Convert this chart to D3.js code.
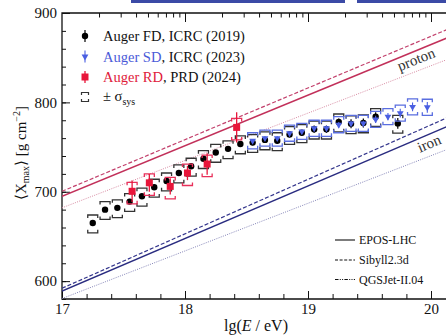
<!DOCTYPE html>
<html><head><meta charset="utf-8">
<script src="https://cdn.jsdelivr.net/npm/d3@7"></script>
<style>html,body{margin:0;padding:0;background:#fff;overflow:hidden}text{font-family:"Liberation Serif","Times New Roman",serif}</style>
</head><body><svg id="c" width="446" height="336"></svg>
<script>
// ---- data ----
const fdLg   = [17.25,17.35,17.45,17.55,17.65,17.75,17.85,17.95,18.05,18.15,18.25,18.35,18.45,18.55,18.65,18.75,18.85,18.95,19.05,19.15,19.25,19.35,19.45,19.55,19.73];
const fdX    = [665,680,682,689,695,705,712,721,728.5,737,744,748,753.5,755,758,757,764,766,770,770,778,776,777,784,776.5];
const fdErr  = [2,2,2,2,2,2,2,2,2,2,2,2,2,3,3,3,3,3,4,4,4,5,5,5,6];
const sdLg   = [18.55,18.65,18.75,18.85,18.95,19.05,19.15,19.25,19.35,19.45,19.55,19.65,19.75,19.85,19.97];
const sdX    = [757,760,760,765.5,767.5,771,771,775,776.5,776.5,781,784,788,795,794.5];
const sdErr  = [2,2,2,2,2,2,3,3,3,3,4,4,5,5,6];
const rdLg   = [17.57,17.71,17.88,18.02,18.18,18.42];
const rdX    = [700.5,710,706,721,731,772];
const rdErr  = [12,10,9,8,12,17];
const sysFD  = [9,11];   // up, down
const sysSD  = [9,9];
const sysRD  = [10,14];
const modelLg = [17,20.2];
const protonEPOS = [695,876];
const protonSibyll = [700.5,885.5];
const protonQGS = [682,851.6];
const ironEPOS = [589,777];
const ironSibyll = [592,787];
const ironQGS = [580.5,751];
const yMajor = [600,700,800,900];
const xMajor = [17,18,19,20];
const modelNames = ["EPOS-LHC","Sibyll2.3d","QGSJet-II.04"];

// ---- setup ----
const svg = d3.select("#c");
const W=446;
const x = d3.scaleLinear().domain([17,20]).range([62,431]);
const y = d3.scaleLinear().domain([580,900]).range([299,13]);
const xE = d3.scaleLog().domain([1e17,1e20]).range([62,431]);

// top link-like bars
svg.append("rect").attr("x",131).attr("y",0).attr("width",214).attr("height",3).attr("fill","#3b4aa6");
svg.append("rect").attr("x",357).attr("y",0).attr("width",89).attr("height",3).attr("fill","#3b4aa6");

svg.append("clipPath").attr("id","clip").append("rect").attr("x",62).attr("y",13).attr("width",400).attr("height",286);

// axes
const gL = svg.append("g").attr("transform","translate(62,0)");
gL.call(d3.axisLeft(y).tickValues(d3.range(580,901,20)).tickSize(-4).tickFormat(""));
gL.append("g").call(d3.axisLeft(y).tickValues(yMajor).tickSize(-8).tickPadding(5).tickFormat(d3.format("d")));
const gB = svg.append("g").attr("transform","translate(0,299)");
gB.call(d3.axisBottom(x).tickValues(d3.range(17,20.3,0.2)).tickSize(-5).tickFormat(""));
gB.append("g").call(d3.axisBottom(x).tickValues(xMajor).tickSize(-8).tickPadding(4).tickFormat(d3.format("d")));
const gT = svg.append("g").attr("transform","translate(0,13)");
const eTicks = xE.ticks().concat([2e20]);
gT.call(d3.axisTop(xE).tickValues(eTicks.filter(v=>Math.abs(Math.log10(v)%1)>1e-6)).tickSize(-4.5).tickFormat(""));
gT.append("g").call(d3.axisTop(xE).tickValues([1e18,1e19,1e20]).tickSize(-9).tickFormat(""));
svg.selectAll(".domain").remove();
svg.selectAll(".tick line").attr("stroke","#111").attr("stroke-width",1);
svg.selectAll(".tick text").attr("font-size",15).attr("fill","#111").attr("font-family",'"Liberation Serif",serif');

// frame
svg.append("path").attr("d",`M${W+2},13H62V299H${W+2}`).attr("fill","none").attr("stroke","#111").attr("stroke-width",1.3);

// model lines
const plot = svg.append("g").attr("clip-path","url(#clip)");
const line = d3.line().x(d=>x(d[0])).y(d=>y(d[1]));
const models = [
 {v:protonSibyll,c:"#c2406c",dash:"4,2",w:1.2},
 {v:protonEPOS,c:"#c2305a",dash:null,w:1.5},
 {v:protonQGS,c:"#d88aa2",dash:"1,1.3",w:1},
 {v:ironSibyll,c:"#33358c",dash:"4,2",w:1.2},
 {v:ironEPOS,c:"#2a2c80",dash:null,w:1.5},
 {v:ironQGS,c:"#8484b8",dash:"1,1.3",w:1}
];
models.forEach(m=>{
  plot.append("path").attr("d",line(modelLg.map((l,i)=>[l,m.v[i]])))
   .attr("fill","none").attr("stroke",m.c).attr("stroke-width",m.w).attr("stroke-dasharray",m.dash);
});
svg.append("text").attr("transform",`translate(418,64) rotate(-21.5)`).attr("text-anchor","middle").attr("font-size",15).attr("fill","#333").text("proton");
svg.append("text").attr("transform",`translate(431,148) rotate(-23)`).attr("text-anchor","middle").attr("font-size",15).attr("fill","#333").text("iron");

// data drawing helper
function brackets(g, lg, vals, sys, color){
  lg.forEach((l,i)=>{
    const cx=x(l), yt=y(vals[i]+sys[0]), yb=y(vals[i]-sys[1]);
    g.append("path").attr("d",`M${cx-5},${yt+3}V${yt}H${cx+5}V${yt+3}M${cx-5},${yb-3}V${yb}H${cx+5}V${yb-3}`)
      .attr("fill","none").attr("stroke",color).attr("stroke-width",1.3);
  });
}
function errs(g, lg, vals, e, color, w){
  lg.forEach((l,i)=>{
    g.append("line").attr("x1",x(l)).attr("x2",x(l)).attr("y1",y(vals[i]-e[i])).attr("y2",y(vals[i]+e[i]))
      .attr("stroke",color).attr("stroke-width",w);
  });
}
const cFD="#000", cSD="#4a5fe2", cRD="#e8163a";
const dg = plot.append("g");
brackets(dg, fdLg, fdX, sysFD, "#333");
errs(dg, fdLg, fdX, fdErr, cFD, 1.2);
dg.selectAll(".fd").data(fdLg).join("circle").attr("cx",d=>x(d)).attr("cy",(d,i)=>y(fdX[i])).attr("r",3.2).attr("fill",cFD);
brackets(dg, sdLg, sdX, sysSD, "#5a6ee0");
errs(dg, sdLg, sdX, sdErr, cSD, 1.1);
const tri = d3.symbol().type(d3.symbolTriangle).size(20);
dg.selectAll(".sd").data(sdLg).join("path").attr("d",tri).attr("transform",(d,i)=>`translate(${x(d)},${y(sdX[i])}) rotate(180)`).attr("fill",cSD);
brackets(dg, rdLg, rdX, sysRD, "#e8305a");
errs(dg, rdLg, rdX, rdErr, cRD, 1.3);
const sq = d3.symbol().type(d3.symbolSquare).size(49);
dg.selectAll(".rd").data(rdLg).join("path").attr("d",sq).attr("transform",(d,i)=>`translate(${x(d)},${y(rdX[i])})`).attr("fill",cRD);

// legend top-left
const lg = svg.append("g");
const rows=[36,56.5,77,97];
lg.append("line").attr("x1",85).attr("x2",85).attr("y1",rows[0]-6).attr("y2",rows[0]+6).attr("stroke","#000").attr("stroke-width",1.2);
lg.append("circle").attr("cx",85).attr("cy",rows[0]).attr("r",3.2).attr("fill","#000");
lg.append("line").attr("x1",85).attr("x2",85).attr("y1",rows[1]-6).attr("y2",rows[1]+6).attr("stroke",cSD).attr("stroke-width",1.1);
lg.append("path").attr("d",tri).attr("transform",`translate(85,${rows[1]}) rotate(180)`).attr("fill",cSD);
lg.append("line").attr("x1",85).attr("x2",85).attr("y1",rows[2]-6).attr("y2",rows[2]+6).attr("stroke",cRD).attr("stroke-width",1.3);
lg.append("path").attr("d",sq).attr("transform",`translate(85,${rows[2]})`).attr("fill",cRD);
lg.append("path").attr("d",`M81.5,${rows[3]-2}V${rows[3]-4.5}H88.5V${rows[3]-2}M81.5,${rows[3]+2}V${rows[3]+4.5}H88.5V${rows[3]+2}`).attr("fill","none").attr("stroke","#333").attr("stroke-width",1.2);
const t1 = lg.append("text").attr("x",103).attr("y",rows[0]+5).attr("font-size",14.5).attr("fill","#111");
t1.append("tspan").text("Auger FD, ICRC (2019)");
const t2 = lg.append("text").attr("x",103).attr("y",rows[1]+5).attr("font-size",14.5).attr("fill","#111");
t2.append("tspan").attr("fill","#4a5ad8").text("Auger SD");
t2.append("tspan").text(", ICRC (2023)");
const t3 = lg.append("text").attr("x",103).attr("y",rows[2]+5).attr("font-size",14.5).attr("fill","#111");
t3.append("tspan").attr("fill","#e0203a").text("Auger RD");
t3.append("tspan").text(", PRD (2024)");
const t4 = lg.append("text").attr("x",103).attr("y",rows[3]+4).attr("font-size",14.5).attr("fill","#111");
t4.append("tspan").text("± σ");
t4.append("tspan").attr("font-size",10).attr("dy",4).text("sys");

// model legend
const ml = svg.append("g");
const mrows=[240,260,279.5];
const mdash=[null,"3,1.6","3.5,1.3,1,1.3,1,1.3"];
modelNames.forEach((n,i)=>{
  ml.append("line").attr("x1",335).attr("x2",355).attr("y1",mrows[i]).attr("y2",mrows[i]).attr("stroke","#111").attr("stroke-width",1.1).attr("stroke-dasharray",mdash[i]);
  ml.append("text").attr("x",359).attr("y",mrows[i]+4).attr("font-size",12).attr("fill","#111").text(n);
});

// axis titles
const xt = svg.append("text").attr("x",256).attr("y",331).attr("text-anchor","middle").attr("font-size",16).attr("fill","#111");
xt.append("tspan").text("lg(");
xt.append("tspan").attr("font-style","italic").text("E");
xt.append("tspan").text(" / eV)");
const yt = svg.append("text").attr("transform","translate(26,153) rotate(-90)").attr("text-anchor","middle").attr("font-size",15).attr("fill","#111");
yt.append("tspan").text("⟨X");
yt.append("tspan").attr("font-size",10).attr("dy",3).text("max");
yt.append("tspan").attr("dy",-3).text("⟩ [g cm");
yt.append("tspan").attr("font-size",10).attr("dy",-6).text("−2");
yt.append("tspan").attr("dy",6).text("]");
</script></body></html>
